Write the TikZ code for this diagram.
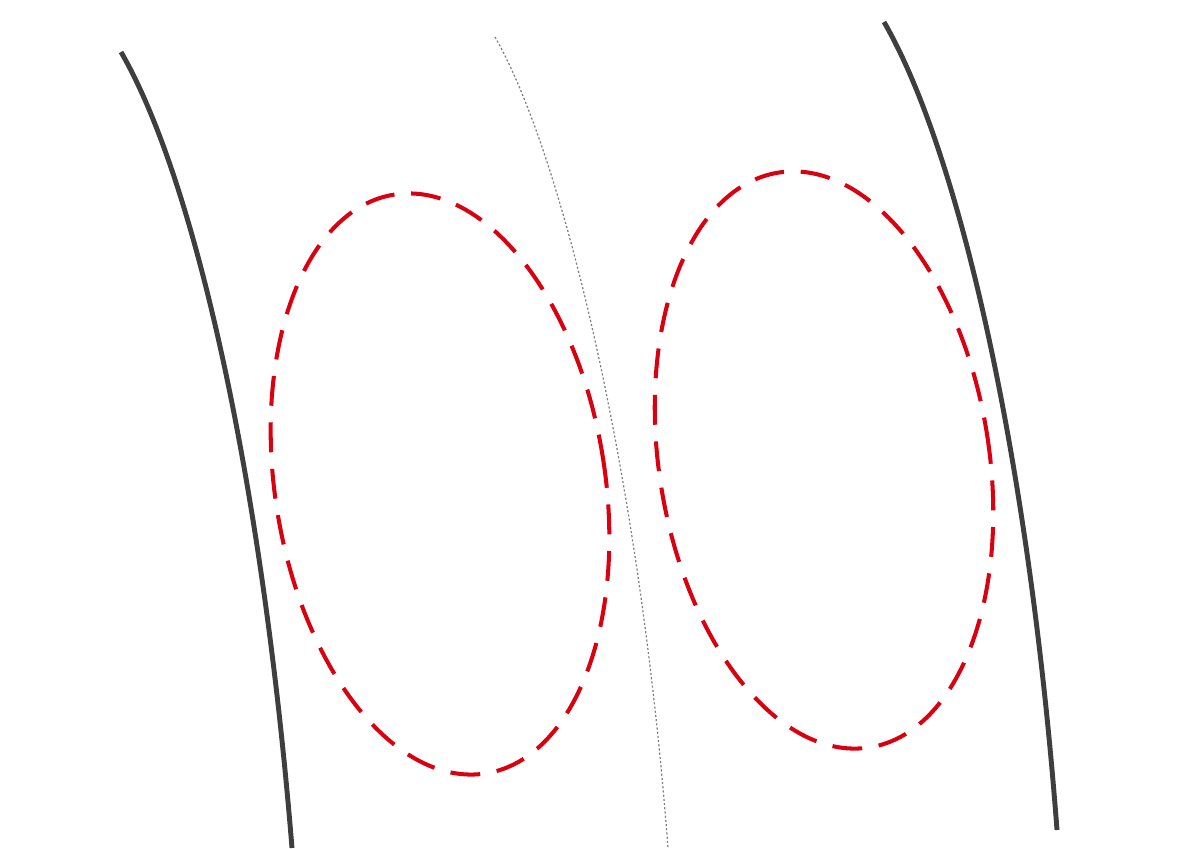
\documentclass[tikz,border=0pt]{standalone}
\usetikzlibrary{positioning}
\definecolor{edgegray}{HTML}{3E3E3E}
\definecolor{ringred}{HTML}{D9000F}
\begin{document}
\begin{tikzpicture}[x=0.02cm,y=-0.02cm,
  edge/.style={edgegray,line width=2.8pt},
  midline/.style={gray,line width=0.7pt,dash pattern=on 1.2pt off 1.2pt},
  ring/.style={ringred,line width=2.3pt,dash pattern=on 17pt off 9.5pt}]
  \useasboundingbox (0,0) rectangle (1195,848);
  % Left and right edges
  \draw[edge] (121,52) .. controls (195,180) and (262,480) .. (292,848);
  \draw[edge] (884,22) .. controls (958,150) and (1028,450) .. (1057,830);
  % Middle: thin dotted line
  \draw[midline] (495,37) .. controls (565,160) and (640,480) .. (668,848);
  % Two dashed rings
  \draw[ring] (440,484) ellipse[x radius=165,y radius=293,rotate=9];
  \draw[ring] (824,460) ellipse[x radius=165,y radius=291,rotate=9];
\end{tikzpicture}
\end{document}
